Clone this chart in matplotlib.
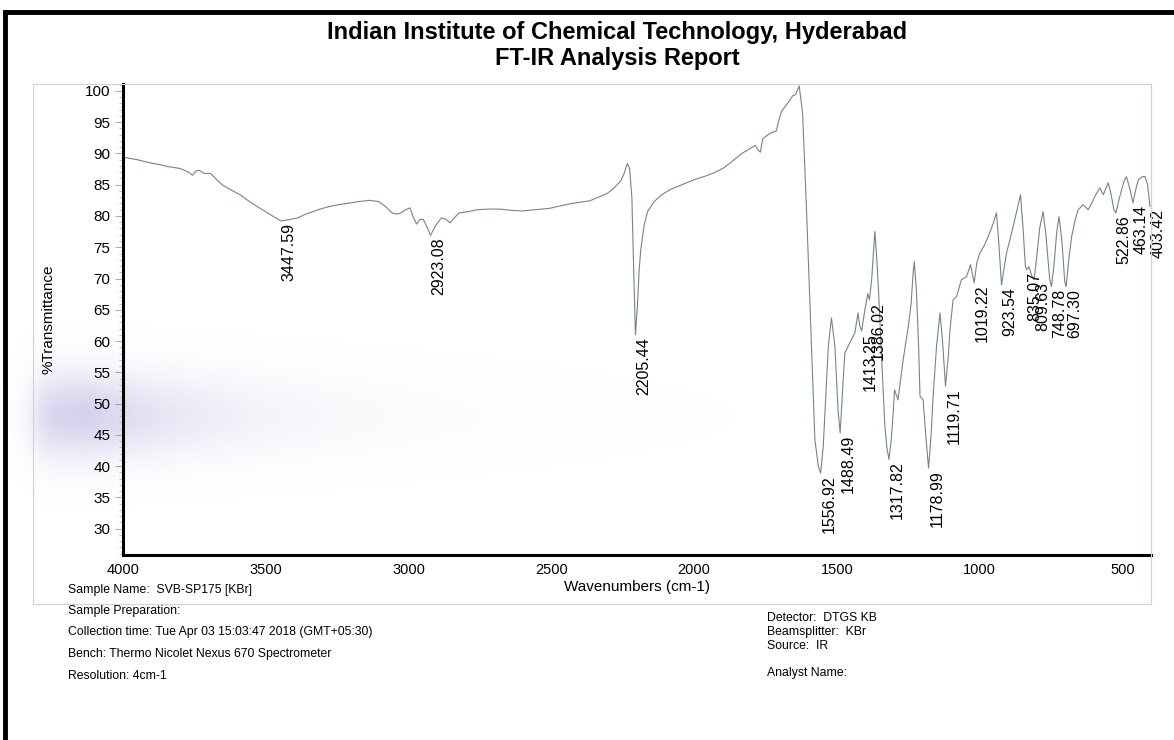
import numpy as np
import matplotlib.pyplot as plt
from matplotlib.lines import Line2D
from matplotlib.patches import Rectangle

plt.rcParams['font.family'] = ['Liberation Sans', 'DejaVu Sans']

# ---- spectrum (wavenumber cm-1, %T) ----------------------------------------
wavenumber = [
    4000, 3950, 3906, 3870, 3843, 3800, 3770, 3757, 3745, 3733, 3715, 3694,
    3680, 3670, 3650, 3623, 3590, 3560, 3530, 3498, 3470, 3447.59, 3420, 3388,
    3360, 3341, 3310, 3278, 3245, 3215, 3175, 3136, 3105, 3080, 3058, 3040,
    3027, 3010, 2995, 2985, 2972, 2960, 2948, 2935, 2923.08, 2905, 2885, 2870,
    2854, 2838, 2822, 2790, 2760, 2720, 2681, 2640, 2602, 2560, 2508, 2470,
    2430, 2400, 2367, 2335, 2304, 2280, 2257, 2245, 2234, 2226, 2218, 2212,
    2205.44, 2198, 2193, 2187, 2175, 2163, 2140, 2116, 2085, 2053, 2000, 1959,
    1930, 1896, 1865, 1833, 1810, 1786, 1775, 1768, 1760, 1747, 1730, 1712,
    1705, 1695, 1680, 1668, 1655, 1645, 1632, 1620, 1606, 1589, 1577, 1565,
    1556.92, 1548, 1542, 1530, 1519, 1507, 1496, 1488.49, 1478, 1472, 1455,
    1437, 1426, 1420, 1413.25, 1402, 1392, 1386.02, 1378, 1367, 1360, 1355,
    1344, 1332, 1325, 1317.82, 1310, 1303, 1298, 1286, 1275, 1268, 1250, 1240,
    1233, 1229, 1221, 1213, 1209, 1198, 1188, 1178.99, 1170, 1163, 1151, 1139,
    1130, 1119.71, 1110, 1104, 1093, 1081, 1064, 1046, 1032, 1019.22, 1010,
    999, 985, 970, 955, 941, 932, 923.54, 915, 906, 895, 883, 870, 857, 848,
    840, 835.07, 827, 818, 809.63, 800, 790, 778, 768, 755, 748.78, 740, 730,
    722, 712, 702, 697.30, 688, 678, 665, 655, 638, 620, 608, 597, 579, 567,
    550, 540, 530, 522.86, 510, 495, 486, 475, 463.14, 452, 444, 430, 421, 412,
    403.42,
]
transmittance = [
    89.4, 89.0, 88.5, 88.2, 87.9, 87.6, 87.0, 86.5, 87.2, 87.3, 86.8, 86.8,
    86.2, 85.7, 84.9, 84.2, 83.4, 82.4, 81.5, 80.6, 79.8, 79.2, 79.4, 79.7,
    80.3, 80.6, 81.1, 81.5, 81.8, 82.0, 82.3, 82.5, 82.3, 81.5, 80.5, 80.3,
    80.5, 81.0, 81.3, 80.0, 78.7, 79.5, 79.4, 78.2, 76.9, 78.5, 79.7, 79.5,
    78.9, 79.8, 80.5, 80.7, 81.0, 81.1, 81.1, 80.9, 80.8, 81.0, 81.2, 81.6,
    82.0, 82.2, 82.4, 83.0, 83.6, 84.5, 85.6, 86.8, 88.4, 87.6, 83.0, 72.0,
    61.0, 66.0, 71.0, 74.5, 78.5, 80.7, 82.3, 83.3, 84.2, 84.8, 85.8, 86.4,
    86.9, 87.7, 88.8, 90.0, 90.6, 91.3, 90.5, 90.2, 92.3, 92.8, 93.3, 93.6,
    95.0, 96.6, 97.6, 98.3, 99.2, 99.4, 100.8, 96.4, 80.5, 59.2, 44.2, 40.0,
    38.9, 43.0, 48.5, 59.2, 63.7, 59.2, 49.0, 45.3, 53.8, 58.1, 59.7,
    61.3, 64.5, 62.5, 61.6, 65.0, 67.6, 66.6, 70.0, 77.5, 73.0, 68.7,
    58.1, 46.4, 43.0, 41.1, 44.0, 48.5, 52.2, 50.6, 54.5, 57.0, 62.3, 66.0,
    70.9, 72.7, 67.7, 58.0, 51.2, 50.6, 44.5, 39.7, 45.0, 51.2, 59.2, 64.5,
    60.0, 52.8, 57.5, 61.8, 66.6, 67.1, 69.8, 70.3, 72.2, 69.3, 72.5,
    74.1, 75.2, 76.7, 78.5, 80.5, 75.0, 69.0, 71.5, 74.1, 76.0, 78.3, 80.8, 83.4, 78.0,
    72.0, 71.4, 71.9, 70.5, 69.8, 73.5, 78.0, 80.7, 77.0, 70.0, 68.7, 72.0, 77.5,
    79.9, 76.0, 69.5, 68.7, 73.0, 76.7, 79.5, 81.0, 81.8, 81.0, 82.0, 83.1, 84.5, 83.4,
    85.3, 83.5, 81.0, 80.5, 83.0, 85.5, 86.3, 84.5, 82.1, 84.5, 85.8, 86.3, 86.3, 85.0,
    81.5,
]

# ---- labelled peaks ----------------------------------------------------------
peak_wn = [3447.59, 2923.08, 2205.44, 1556.92, 1488.49, 1413.25, 1386.02,
           1317.82, 1178.99, 1119.71, 1019.22, 923.54, 835.07, 809.63,
           748.78, 697.30, 522.86, 463.14, 403.42]

x_ticks = [4000, 3500, 3000, 2500, 2000, 1500, 1000, 500]
y_ticks = [30, 35, 40, 45, 50, 55, 60, 65, 70, 75, 80, 85, 90, 95, 100]

info_left = [
    "Sample Name:  SVB-SP175 [KBr]",
    "Sample Preparation:",
    "Collection time: Tue Apr 03 15:03:47 2018 (GMT+05:30)",
    "Bench: Thermo Nicolet Nexus 670 Spectrometer",
    "Resolution: 4cm-1",
]
info_right = ["Detector:  DTGS KB", "Beamsplitter:  KBr", "Source:  IR"]

W, H = 1174, 740
fig = plt.figure(figsize=(W / 100, H / 100), dpi=100)
fig.patch.set_facecolor("white")

def fx(px):
    return px / W

def fy(py):
    return 1 - py / H

# faint lavender smear from the scanned sheet
bg = fig.add_axes([0, 0, 1, 1], zorder=-5)
bg.set_axis_off()
gx, gy = np.meshgrid(np.arange(W), np.arange(H))
alpha = 0.55 * np.exp(-((gy - 415) / 42.0) ** 2)
alpha *= np.exp(-np.clip(gx - 90, 0, None) / 130.0)
alpha *= 1 / (1 + np.exp(-(gx - 35) / 8.0))
haze = np.zeros((H, W, 4))
haze[..., 0] = 0.70
haze[..., 1] = 0.69
haze[..., 2] = 0.87
haze[..., 3] = alpha
bg.imshow(haze, extent=[0, 1, 0, 1], aspect="auto", interpolation="bilinear")
bg.set_xlim(0, 1)
bg.set_ylim(0, 1)

ax = fig.add_axes([fx(123), fy(555), fx(1151 - 123), (555 - 84) / H])
ax.patch.set_alpha(0)
ax.plot(wavenumber, transmittance, color="#74838f", lw=0.8)

ax.set_xlim(4000, 400)
ax.set_ylim(25.8, 101.1)
ax.set_xticks(x_ticks)
ax.set_yticks(y_ticks)
ax.set_yticks(np.arange(26, 102, 1), minor=True)
ax.tick_params(axis="y", which="major", direction="out", length=6, width=0.6,
               color="#999999", labelsize=11, pad=3)
ax.tick_params(axis="y", which="minor", direction="out", length=3, width=0.5,
               color="#aaaaaa")
ax.tick_params(axis="x", which="major", length=0, labelsize=10.5, pad=6)

for side in ("left", "bottom"):
    ax.spines[side].set_linewidth(2.2)
    ax.spines[side].set_color("black")
for side in ("top", "right"):
    ax.spines[side].set_linewidth(0.8)
    ax.spines[side].set_color("#c4c8cc")

ax.set_xlabel("Wavenumbers (cm-1)", fontsize=11, labelpad=2)
ax.set_ylabel("%Transmittance", fontsize=11, labelpad=21)

# peak annotations, text hangs just below each minimum
peak_t = np.interp(peak_wn, wavenumber[::-1], transmittance[::-1])
for w, t in zip(peak_wn, peak_t):
    ax.annotate(f"{w:.2f}", xy=(w, t), xytext=(6, -1.5), textcoords="offset points",
                rotation=90, ha="center", va="top", fontsize=11.5,
                annotation_clip=False)

# title
fig.text(fx(617), fy(33), "Indian Institute of Chemical Technology, Hyderabad",
         ha="center", va="center", fontsize=17, fontweight="bold")
fig.text(fx(617), fy(58), "FT-IR Analysis Report",
         ha="center", va="center", fontsize=17, fontweight="bold")

# outer grey frame around the plot block
fig.add_artist(Rectangle((fx(33), fy(604)), fx(1151 - 33), (604 - 84) / H,
                         fill=False, ec="#d0d3d6", lw=0.8))

# footer
left_y = [590, 611, 632, 654, 676]
for txt, py in zip(info_left, left_y):
    fig.text(fx(68), fy(py), txt, ha="left", va="center", fontsize=8.8)
for txt, py in zip(info_right, [618, 632, 646]):
    fig.text(fx(767), fy(py), txt, ha="left", va="center", fontsize=8.8)
fig.text(fx(767), fy(673), "Analyst Name:", ha="left", va="center", fontsize=8.8)

# black page border
fig.add_artist(Line2D([fx(5), fx(5)], [fy(12), 0], color="black", lw=3.5))
fig.add_artist(Line2D([fx(5), 1], [fy(12), fy(12)], color="black", lw=3.5))

fig.savefig("out.png", dpi=100)
